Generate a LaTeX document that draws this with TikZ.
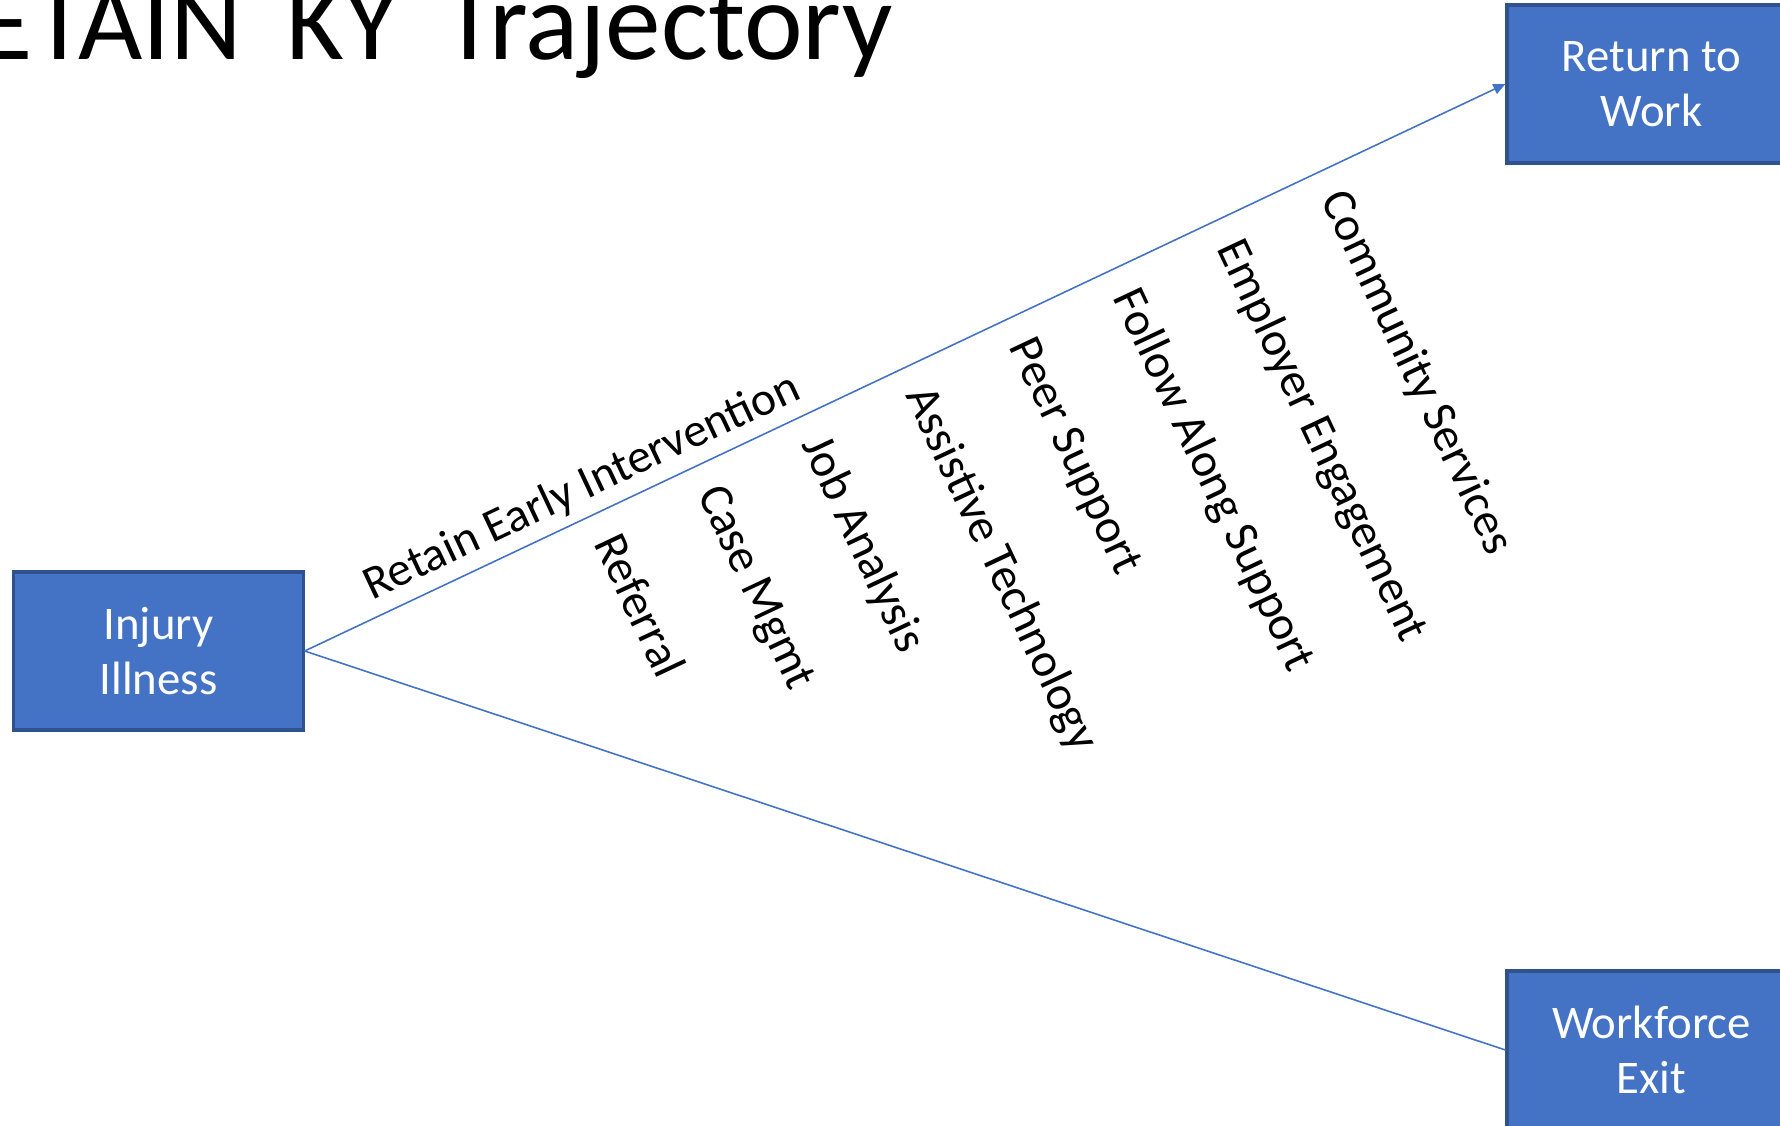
\documentclass[tikz,border=0pt]{standalone}
\usepackage{fontspec}
\setmainfont{Carlito}
\usepackage{xcolor}
\usepackage{tikz}
\usetikzlibrary{arrows.meta, calc}
\definecolor{stageblue}{HTML}{4472C4}
\definecolor{stageedge}{HTML}{2F528F}
\tikzset{
  stage/.style={rectangle, draw=stageedge, line width=0.9pt, fill=stageblue, text=white, minimum width=2.89cm, minimum height=1.58cm, align=center, font=\fontsize{13.3}{15.8}\selectfont},
  track/.style={stageblue, line width=0.45pt},
  service/.style={rotate=-64.8, anchor=base west, inner sep=0pt, font=\fontsize{13.6}{16}\selectfont},
}

\begin{document}
\begin{tikzpicture}[x=0.01cm, y=-0.01cm]
    \path[use as bounding box, clip] (0,0) rectangle (1780,1125);
    \node[anchor=base east, inner sep=0pt, font=\fontsize{31.6}{36}\selectfont] (title) at (893,60) {\spaceskip=12.5pt\relax RETAIN KY Trajectory};
    \node[stage] (injury) at (158.5,651) {Injury\\Illness};
    \node[stage] (rtw) at (1651.5,84) {Return to\\Work};
    \node[stage] (exit) at (1651.5,1050) {Workforce\\Exit};
    \draw[track, -{Triangle[length=3.4pt, width=3pt]}] (injury.east) -- (rtw.west);
    \draw[track] (injury.east) -- (exit.west);
    \node[rotate=25.2, anchor=base west, inner sep=0pt, font=\fontsize{13.5}{16}\selectfont] (early) at ($(injury.east)!0.82cm!(rtw.west)!0.17cm!90:(rtw.west)$) {Retain Early Intervention};
    \foreach \lbl [count=\i from 0] in {Referral, Case Mgmt, Job Analysis, Assistive Technology, Peer Support, Follow Along Support, Employer Engagement, Community Services} {
      \pgfmathsetlengthmacro\along{3.07cm+1.148cm*\i}
      \node[service] (svc\i) at ($(injury.east)!\along!(rtw.west)!0.25cm!-90:(rtw.west)$) {\lbl};
    }
\end{tikzpicture}
\end{document}
